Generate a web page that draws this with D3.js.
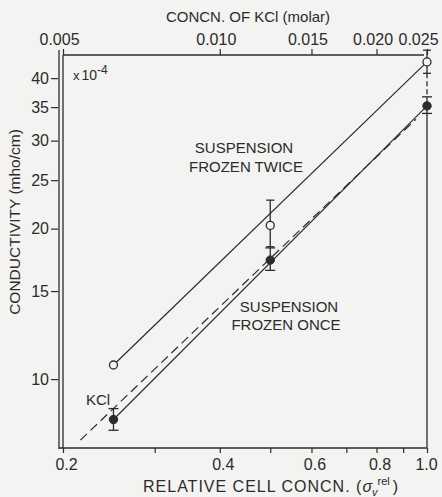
<!DOCTYPE html>
<html>
<head>
<meta charset="utf-8">
<script src="https://cdn.jsdelivr.net/npm/d3@7"></script>
<style>
  html, body { margin: 0; padding: 0; background: #f3f3f1; }
  svg { display: block; }
  text { font-family: "Liberation Sans", Arial, sans-serif; fill: #2b2b2b; }
</style>
</head>
<body>
<svg id="chart" width="442" height="497"></svg>
<script>
// ---- data ----
const relConc = [0.25, 0.5, 1.0];                 // relative cell concentration
const frozenTwice = [10.67, 20.3, 43.1];          // conductivity x1e-4 mho/cm (open circles)
const frozenTwiceLo = [null, 18.4, 40.9];
const frozenTwiceHi = [null, 22.8, 45.5];
const frozenOnce = [8.3, 17.3, 35.2];             // filled circles
const frozenOnceLo = [7.9, 16.5, 34.0];
const frozenOnceHi = [8.73, 18.3, 36.7];
const kclConc = [0.0054, 0.0238];                 // KCl molar concentration (dashed line)
const kclCond = [7.55, 33.1];
const yTicks = [10, 15, 20, 25, 30, 35, 40];
const xTicks = [0.2, 0.3, 0.4, 0.5, 0.6, 0.7, 0.8, 0.9, 1.0];
const xTickLabels = ["0.2", "0.4", "0.6", "0.8", "1.0"];
const topTicks = [0.005, 0.010, 0.015, 0.020, 0.025];
const topTickLabels = ["0.005", "0.010", "0.015", "0.020", "0.025"];

const ink = "#2b2b2b";
const bg = "#f3f3f1";
const L = 63, R = 427, T = 55, B = 448;

const svg = d3.select("#chart");
const x = d3.scaleLog().domain([0.2, 1.0]).range([L, R]);
const xTop = d3.scaleLog().domain([0.005, 0.025]).range([L, R]);
const y = d3.scaleLog().domain([7.28, 44.5]).range([B, T]);

// frame
const frame = svg.append("g").attr("stroke", ink).attr("fill", "none").attr("stroke-width", 1.3);
frame.append("line").attr("x1", L - 4).attr("x2", L - 4).attr("y1", T - 5).attr("y2", B + 1);
frame.append("line").attr("x1", L).attr("x2", L).attr("y1", T).attr("y2", B);
frame.append("line").attr("x1", L - 4).attr("x2", R).attr("y1", B).attr("y2", B);
frame.append("line").attr("x1", L).attr("x2", R - 3).attr("y1", T).attr("y2", T);
frame.append("line").attr("x1", R).attr("x2", R).attr("y1", y(frozenOnceLo[2])).attr("y2", B);
frame.append("line").attr("x1", R).attr("x2", R)
  .attr("y1", y(frozenTwiceLo[2])).attr("y2", y(frozenOnceHi[2]))
  .attr("stroke-dasharray", "5,3");

// axes
function styleAxis(g, size) {
  g.select(".domain").remove();
  g.selectAll(".tick line").attr("stroke", ink).attr("stroke-width", 1.2);
  g.selectAll(".tick text").attr("font-size", size).attr("fill", ink)
    .style("font-family", "'Liberation Sans', Arial, sans-serif");
}
const yAxis = svg.append("g").attr("transform", `translate(${L - 5},0)`)
  .call(d3.axisLeft(y).tickValues(yTicks).tickSize(7).tickPadding(2).tickFormat(d3.format("d")));
styleAxis(yAxis, 16);

const xAxis = svg.append("g").attr("transform", `translate(0,${B})`)
  .call(d3.axisBottom(x).tickValues(xTicks).tickSize(5).tickPadding(6)
    .tickFormat(d => { const s = d3.format(".1f")(d); return xTickLabels.includes(s) ? s : ""; }));
styleAxis(xAxis, 16);
xAxis.selectAll(".tick text").attr("dx", (d, i, n) => i === n.length - 1 ? -1 : 3);

const topAxis = svg.append("g").attr("transform", `translate(0,${T})`)
  .call(d3.axisTop(xTop).tickValues(topTicks).tickSize(6).tickPadding(4)
    .tickFormat((d, i) => topTickLabels[i]));
styleAxis(topAxis, 16);
topAxis.selectAll(".tick text").attr("dx", (d, i) => i === topTicks.length - 1 ? -9 : -4);

// axis titles
svg.append("text").attr("x", 248).attr("y", 22).attr("text-anchor", "middle")
  .attr("font-size", 15).text("CONCN. OF KCl (molar)");

const xt = svg.append("text").attr("x", 143).attr("y", 492).attr("font-size", 16);
xt.append("tspan").attr("letter-spacing", 1).text("RELATIVE CELL CONCN. (");
xt.append("tspan").attr("font-style", "italic").text("σ");
xt.append("tspan").attr("font-size", 11).attr("font-style", "italic").attr("dy", 4).text("v");
xt.append("tspan").attr("font-size", 11).attr("dx", 0).attr("dy", -11).text("rel");
xt.append("tspan").attr("dy", 7).attr("dx", 3).text(")");

svg.append("text").attr("transform", "translate(20,222) rotate(-90)")
  .attr("text-anchor", "middle").attr("font-size", 15.5).text("CONDUCTIVITY (mho/cm)");

const mult = svg.append("text").attr("x", 73).attr("y", 80).attr("font-size", 14);
mult.append("tspan").attr("font-size", 13).text("x");
mult.append("tspan").attr("dx", 2).text("10");
mult.append("tspan").attr("font-size", 12).attr("dy", -6).text("-4");

// lines
const lineG = svg.append("g").attr("stroke", ink).attr("stroke-width", 1.2).attr("fill", "none");
lineG.append("line")
  .attr("x1", xTop(kclConc[0])).attr("y1", y(kclCond[0]))
  .attr("x2", xTop(kclConc[1])).attr("y2", y(kclCond[1]))
  .attr("stroke-dasharray", "9,5");
lineG.append("line")
  .attr("x1", x(relConc[0])).attr("y1", y(frozenTwice[0]))
  .attr("x2", x(relConc[2])).attr("y2", y(frozenTwice[2]));
lineG.append("line")
  .attr("x1", x(relConc[0])).attr("y1", y(frozenOnce[0]))
  .attr("x2", x(relConc[2])).attr("y2", y(frozenOnce[2]));

// error bars
const errG = svg.append("g").attr("stroke", ink).attr("stroke-width", 1.3).attr("fill", "none");
function errBar(xv, lo, hi, cap) {
  if (lo == null) return;
  const px = x(xv);
  errG.append("line").attr("x1", px).attr("x2", px).attr("y1", y(lo)).attr("y2", y(hi));
  [lo, hi].forEach(v => errG.append("line")
    .attr("x1", px - cap).attr("x2", px + cap).attr("y1", y(v)).attr("y2", y(v)));
}
relConc.forEach((d, i) => {
  errBar(d, frozenTwiceLo[i], frozenTwiceHi[i], 4);
  errBar(d, frozenOnceLo[i], frozenOnceHi[i], 5);
});

// points
svg.append("g").selectAll("circle").data(relConc).join("circle")
  .attr("cx", d => x(d)).attr("cy", (d, i) => y(frozenTwice[i])).attr("r", 4)
  .attr("fill", bg).attr("stroke", ink).attr("stroke-width", 1.3);
svg.append("g").selectAll("circle").data(relConc).join("circle")
  .attr("cx", d => x(d)).attr("cy", (d, i) => y(frozenOnce[i])).attr("r", 4.2)
  .attr("fill", ink).attr("stroke", ink).attr("stroke-width", 1);

// annotations
const ann = [
  { t: "SUSPENSION", x: 244, y: 153 },
  { t: "FROZEN TWICE", x: 246, y: 172 },
  { t: "SUSPENSION", x: 289, y: 312 },
  { t: "FROZEN ONCE", x: 286, y: 330 },
  { t: "KCl", x: 98, y: 405 }
];
svg.append("g").selectAll("text").data(ann).join("text")
  .attr("x", d => d.x).attr("y", d => d.y).attr("text-anchor", "middle")
  .attr("font-size", 15).text(d => d.t);
</script>
</body>
</html>
